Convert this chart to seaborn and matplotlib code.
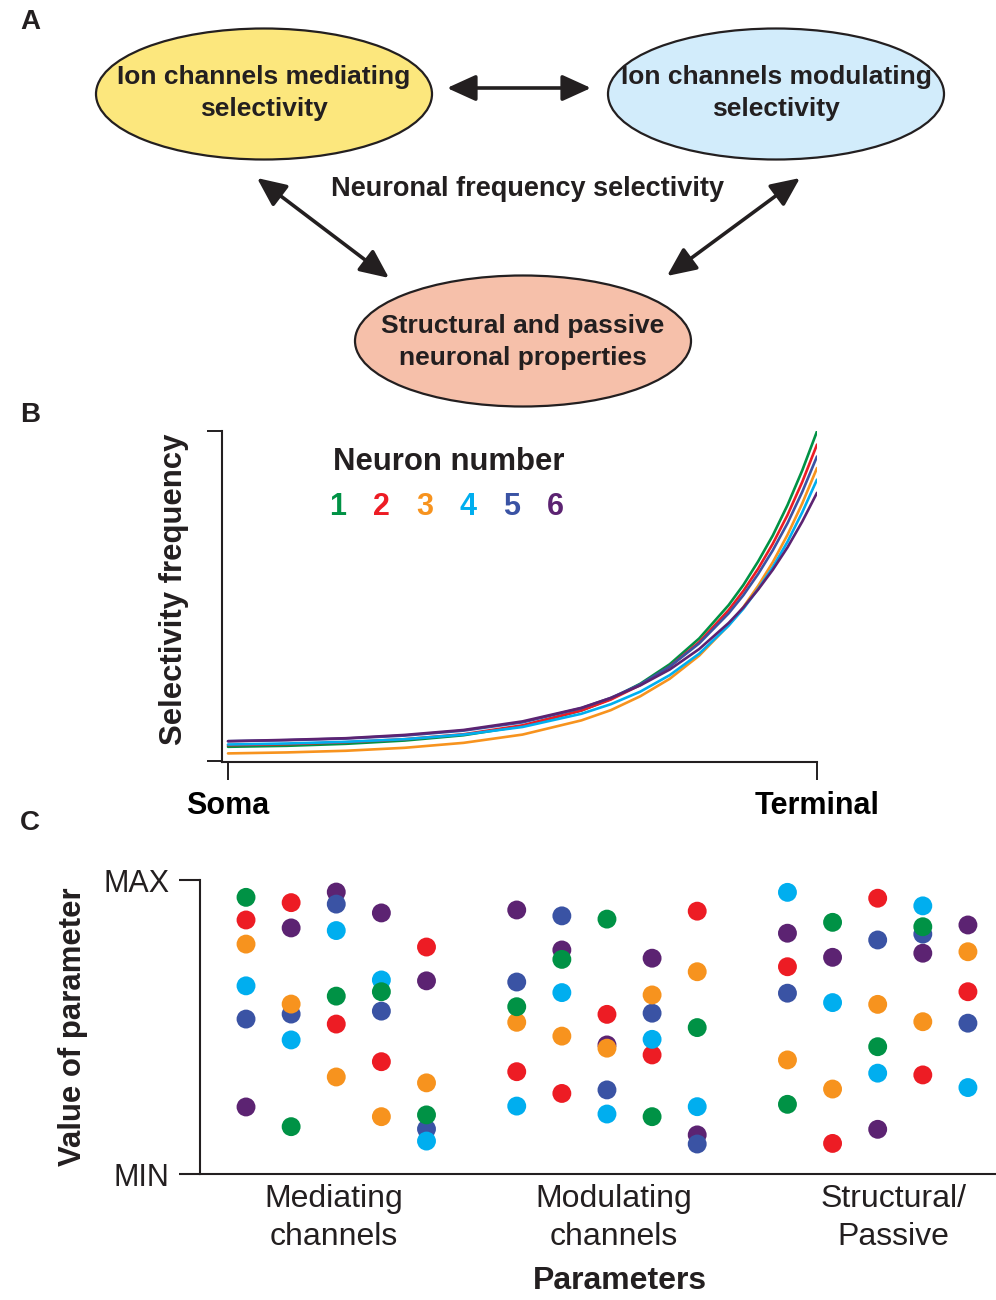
import pandas as pd
import seaborn as sns
import matplotlib.pyplot as plt
from matplotlib.patches import Ellipse

# neuron ids and colours (shared by panels B and C)
neurons = ["1", "2", "3", "4", "5", "6"]
neuron_colors = ["#009245", "#ED1C24", "#F7931E", "#00AEEF", "#3A53A4", "#5C2372"]

# panel B: selectivity frequency along the dendrite (soma -> terminal)
distance = [0, .1, .2, .3, .4, .5, .6, .65, .7, .75, .8, .85, .875, .9, .925, .95, .975, 1.0]
freq_n1 = [.043, .046, .052, .062, .078, .106, .153, .188, .234, .293, .371, .472, .533, .604, .683, .775, .880, .998]
freq_n2 = [.048, .051, .057, .066, .081, .108, .153, .186, .230, .286, .360, .457, .515, .582, .658, .745, .845, .958]
freq_n3 = [.023, .026, .031, .040, .055, .080, .123, .154, .196, .249, .319, .411, .466, .530, .602, .685, .780, .887]
freq_n4 = [.050, .053, .058, .066, .080, .103, .143, .172, .210, .260, .325, .410, .461, .521, .587, .664, .753, .852]
freq_n5 = [.060, .063, .068, .077, .092, .117, .160, .191, .232, .286, .356, .447, .502, .566, .638, .720, .815, .922]
freq_n6 = [.060, .064, .069, .079, .094, .120, .161, .191, .229, .277, .339, .418, .465, .519, .579, .647, .725, .812]

# panel C: parameter values (0 = MIN, 1 = MAX), 3 groups x 5 parameters
groups = ["Mediating\nchannels", "Modulating\nchannels", "Structural/\nPassive"]
param_n1 = [.941, .161, .605, .620, .201, .569, .730, .867, .195, .498, .237, .856, .433, .841, None]
param_n2 = [.864, .923, .510, .382, .772, .348, .274, .543, .405, .894, .705, .104, .938, .337, .620]
param_n3 = [.782, .578, .330, .195, .310, .516, .469, .428, .609, .688, .388, .289, .577, .518, .756]
param_n4 = [.640, .456, .828, .660, .112, .231, .617, .204, .458, .229, .958, .583, .343, .912, .294]
param_n5 = [.527, .544, .918, .554, .153, .653, .878, .286, .547, .102, .615, None, .796, .816, .513]
param_n6 = [.228, .837, .959, .888, .657, .898, .762, .439, .734, .133, .819, .737, .152, .751, .847]

sns.set_theme(style="white")
plt.rcParams["font.family"] = ["Liberation Sans", "DejaVu Sans"]
ink = "#231F20"
palette = dict(zip(neurons, neuron_colors))

fig = plt.figure(figsize=(9.96, 13), dpi=100)
H = 1300.0

# ---------- A: diagram ----------
axA = fig.add_axes([0, 1 - 410 / H, 1, 410 / H])
axA.set_xlim(0, 996)
axA.set_ylim(410, 0)
axA.axis("off")
for (cx, cy), fc in [((264, 94), "#FCE77D"), ((776, 94), "#D2ECFB"), ((523, 341), "#F6C0AA")]:
    axA.add_patch(Ellipse((cx, cy), 336, 131, fc=fc, ec=ink, lw=1.6))
box_text = dict(ha="center", va="center", fontsize=19, fontweight="bold", color=ink, linespacing=1.42)
axA.text(264, 93, "Ion channels mediating\nselectivity", **box_text)
axA.text(776, 93, "Ion channels modulating\nselectivity", **box_text)
axA.text(523, 342, "Structural and passive\nneuronal properties", **box_text)
axA.text(528, 189, "Neuronal frequency selectivity", ha="center", va="center",
         fontsize=19.5, fontweight="bold", color=ink)
arrow = dict(arrowstyle="<|-|>,head_length=1.1,head_width=0.5", mutation_scale=16,
             lw=2.6, color=ink, shrinkA=0, shrinkB=0)
for a, b in [((447, 88), (591, 88)), ((257, 178), (389, 278)), ((800, 178), (667, 276))]:
    axA.annotate("", xy=b, xytext=a, arrowprops=arrow)

# ---------- B: selectivity curves ----------
axB = fig.add_axes([222 / 996, (H - 762) / H, 595 / 996, 331.3 / H])
curves = [freq_n1, freq_n2, freq_n3, freq_n4, freq_n5, freq_n6]
dfB = pd.concat([pd.DataFrame({"distance": distance, "freq": c, "neuron": n})
                 for n, c in zip(neurons, curves)])
sns.lineplot(data=dfB, x="distance", y="freq", hue="neuron", palette=palette,
             lw=1.9, legend=False, ax=axB, estimator=None, sort=False)
axB.set_xlim(-0.0102, 1)
axB.set_ylim(-0.003, 1.0)
axB.set_xticks([0, 1])
axB.set_xticklabels(["Soma", "Terminal"], fontsize=22, fontweight="bold", color="black")
axB.set_yticks([0, 1])
axB.set_yticklabels([])
axB.tick_params(axis="x", length=13, width=1.4, pad=8, color=ink, direction="out", bottom=True)
axB.tick_params(axis="y", length=10.8, width=1.4, color=ink, direction="out", left=True)
axB.set_xlabel("")
axB.set_ylabel("Selectivity frequency", fontsize=22.4, fontweight="bold", color=ink)
axB.yaxis.set_label_coords(-0.056, 0.52)
for s in ["left", "bottom"]:
    axB.spines[s].set_linewidth(1.5)
    axB.spines[s].set_color(ink)
sns.despine(ax=axB)
axB.text(0.3815, 0.906, "Neuron number", transform=axB.transAxes, ha="center", va="center",
         fontsize=22.4, fontweight="bold", color=ink)
for i, (n, c) in enumerate(zip(neurons, neuron_colors)):
    axB.text(0.195 + i * 0.073, 0.77, n, transform=axB.transAxes, ha="center", va="center",
             fontsize=22, fontweight="bold", color=c)

# ---------- C: parameter scatter ----------
axC = fig.add_axes([200 / 996, (H - 1174) / H, 795 / 996, 294 / H])
params = [param_n1, param_n2, param_n3, param_n4, param_n5, param_n6]
draw_order = ["6", "5", "2", "3", "4", "1"]
rows = []
for n in draw_order:
    for k, v in enumerate(params[neurons.index(n)]):
        if v is None:
            continue
        rows.append({"slot": (k // 5) * 6 + k % 5, "value": v, "neuron": n})
dfC = pd.DataFrame(rows)
sns.scatterplot(data=dfC, x="slot", y="value", hue="neuron", palette=palette,
                s=185, linewidth=0, alpha=1, legend=False, ax=axC)
axC.set_xlim(-1.02, 16.6)
axC.set_ylim(0, 1)
axC.set_yticks([0, 1])
axC.set_yticklabels(["MIN", "MAX"], fontsize=22, color=ink)
axC.set_xticks([1.95, 8.14, 14.35])
axC.set_xticklabels(groups, fontsize=23, color=ink, linespacing=1.34)
axC.tick_params(axis="x", length=0, pad=7)
axC.tick_params(axis="y", length=15, width=1.5, pad=7, color=ink, direction="out", left=True)
axC.set_xlabel("Parameters", fontsize=23, fontweight="bold", color=ink)
axC.xaxis.set_label_coords(0.528, -0.313)
axC.set_ylabel("Value of parameter", fontsize=22.4, fontweight="bold", color=ink)
axC.yaxis.set_label_coords(-0.141, 0.5)
for s in ["left", "bottom"]:
    axC.spines[s].set_linewidth(1.5)
    axC.spines[s].set_color(ink)
sns.despine(ax=axC)

# panel letters
for letter, y in [("A", 22), ("B", 415), ("C", 823)]:
    fig.text(30 / 996, 1 - y / H, letter, ha="center", va="center",
             fontsize=20, fontweight="bold", color=ink)

fig.savefig("out.png", dpi=100, facecolor="white")
